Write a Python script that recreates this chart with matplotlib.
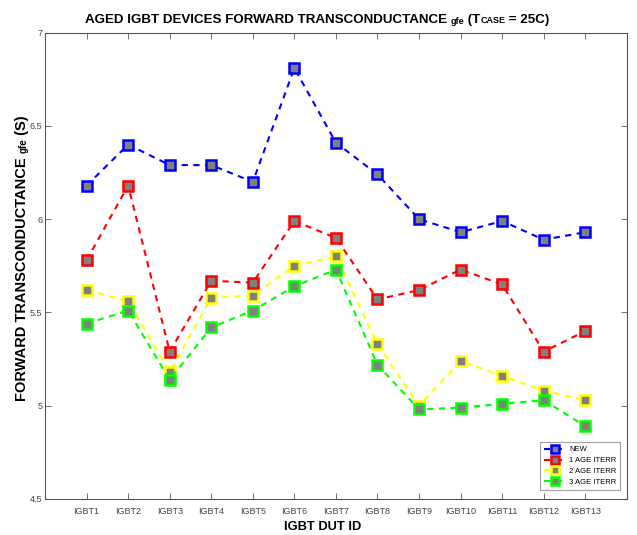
import matplotlib
matplotlib.use("Agg")
import matplotlib.pyplot as plt
from matplotlib.transforms import offset_copy

plt.rcParams['font.family'] = ['Liberation Sans', 'DejaVu Sans']

devices = ["IGBT1", "IGBT2", "IGBT3", "IGBT4", "IGBT5", "IGBT6", "IGBT7",
           "IGBT8", "IGBT9", "IGBT10", "IGBT11", "IGBT12", "IGBT13"]
new = [6.18, 6.40, 6.29, 6.29, 6.20, 6.81, 6.41, 6.24, 6.00, 5.93, 5.99, 5.89, 5.93]
age1 = [5.78, 6.18, 5.29, 5.67, 5.66, 5.99, 5.90, 5.57, 5.62, 5.73, 5.65, 5.29, 5.40]
age2 = [5.62, 5.56, 5.18, 5.58, 5.59, 5.75, 5.80, 5.33, 5.00, 5.24, 5.16, 5.08, 5.03]
age3 = [5.44, 5.51, 5.14, 5.42, 5.51, 5.64, 5.73, 5.22, 4.98, 4.99, 5.01, 5.03, 4.89]
labels = ["NEW", "1 AGE ITERR", "2 AGE ITERR", "3 AGE ITERR"]
colors = ["#0000ff", "#ff0000", "#ffff00", "#00ff00"]
yticks = [4.5, 5, 5.5, 6, 6.5, 7]

fig = plt.figure(figsize=(6.37, 5.35), dpi=100)
ax = fig.add_axes([0.0707, 0.0673, 0.9133, 0.8717])

x = list(range(1, len(devices) + 1))
for vals, lab, c in zip([new, age1, age2, age3], labels, colors):
    ax.plot(x, vals, linestyle=(0, (3, 2.6)), color=c, lw=1.5, marker='s',
            markersize=6.5, markerfacecolor='#808080', markeredgecolor=c,
            markeredgewidth=1.8, label=lab)

ax.set_xlim(0, 14)
ax.set_ylim(4.5, 7)
ax.set_xticks(x)
ax.set_xticklabels(devices, fontsize=6.5, color='#444444')
ax.set_yticks(yticks)
ax.set_yticklabels([f"{v:g}" for v in yticks], fontsize=6.5, color='#444444')
ax.tick_params(direction='in', top=True, right=True, length=4, width=0.6,
               color='#555555')
ax.tick_params(axis='x', pad=6)
ax.tick_params(axis='y', pad=2)
for s in ax.spines.values():
    s.set_color('#555555')
    s.set_linewidth(0.8)

leg = ax.legend(loc='lower right', fontsize=5.5, frameon=True, fancybox=False,
                edgecolor='#888888', borderpad=0.5, labelspacing=0.45,
                handlelength=3.0, handletextpad=0.3, markerscale=0.95,
                bbox_to_anchor=(0.995, 0.012))
leg.get_frame().set_linewidth(0.8)

fig.canvas.draw()
renderer = fig.canvas.get_renderer()
W = fig.get_size_inches()[0] * fig.dpi
H = fig.get_size_inches()[1] * fig.dpi


def chain(pieces, x0, y0, rotation=0):
    texts = []
    trans = fig.transFigure
    offx = 0.0
    for txt, size, dy in pieces:
        if rotation == 0:
            t = fig.text(x0, y0, txt, fontsize=size, fontweight='bold',
                         ha='left', va='baseline',
                         transform=offset_copy(trans, fig=fig, x=offx, y=dy, units='dots'))
            bb = t.get_window_extent(renderer)
            offx += bb.width
        else:
            t = fig.text(x0, y0, txt, fontsize=size, fontweight='bold',
                         ha='left', va='baseline', rotation=90,
                         rotation_mode='anchor',
                         transform=offset_copy(trans, fig=fig, x=-dy, y=offx, units='dots'))
            bb = t.get_window_extent(renderer)
            offx += bb.height
        texts.append(t)
    return texts, offx


title_pieces = [("AGED IGBT DEVICES FORWARD TRANSCONDUCTANCE ", 9.6, 0),
                ("gfe", 6.5, -1), (" (T", 9.6, 0), ("CASE", 6.5, 0), (" = 25C)", 9.6, 0)]
texts, total = chain(title_pieces, 0, 0)
for t in texts:
    t.remove()
chain(title_pieces, (317 - total / 2) / W, 1 - 23 / H)

yl_pieces = [("FORWARD TRANSCONDUCTANCE ", 10.5, 0), ("gfe", 7, -1), (" (S)", 10.5, 0)]
texts, total = chain(yl_pieces, 0, 0, rotation=90)
for t in texts:
    t.remove()
chain(yl_pieces, 26 / W, (H - 258 - total / 2) / H, rotation=90)

fig.text(323 / W, 1 - 530 / H, "IGBT DUT ID", fontsize=9.3,
         fontweight='bold', ha='center', va='baseline')

fig.savefig("out.png", dpi=100)
